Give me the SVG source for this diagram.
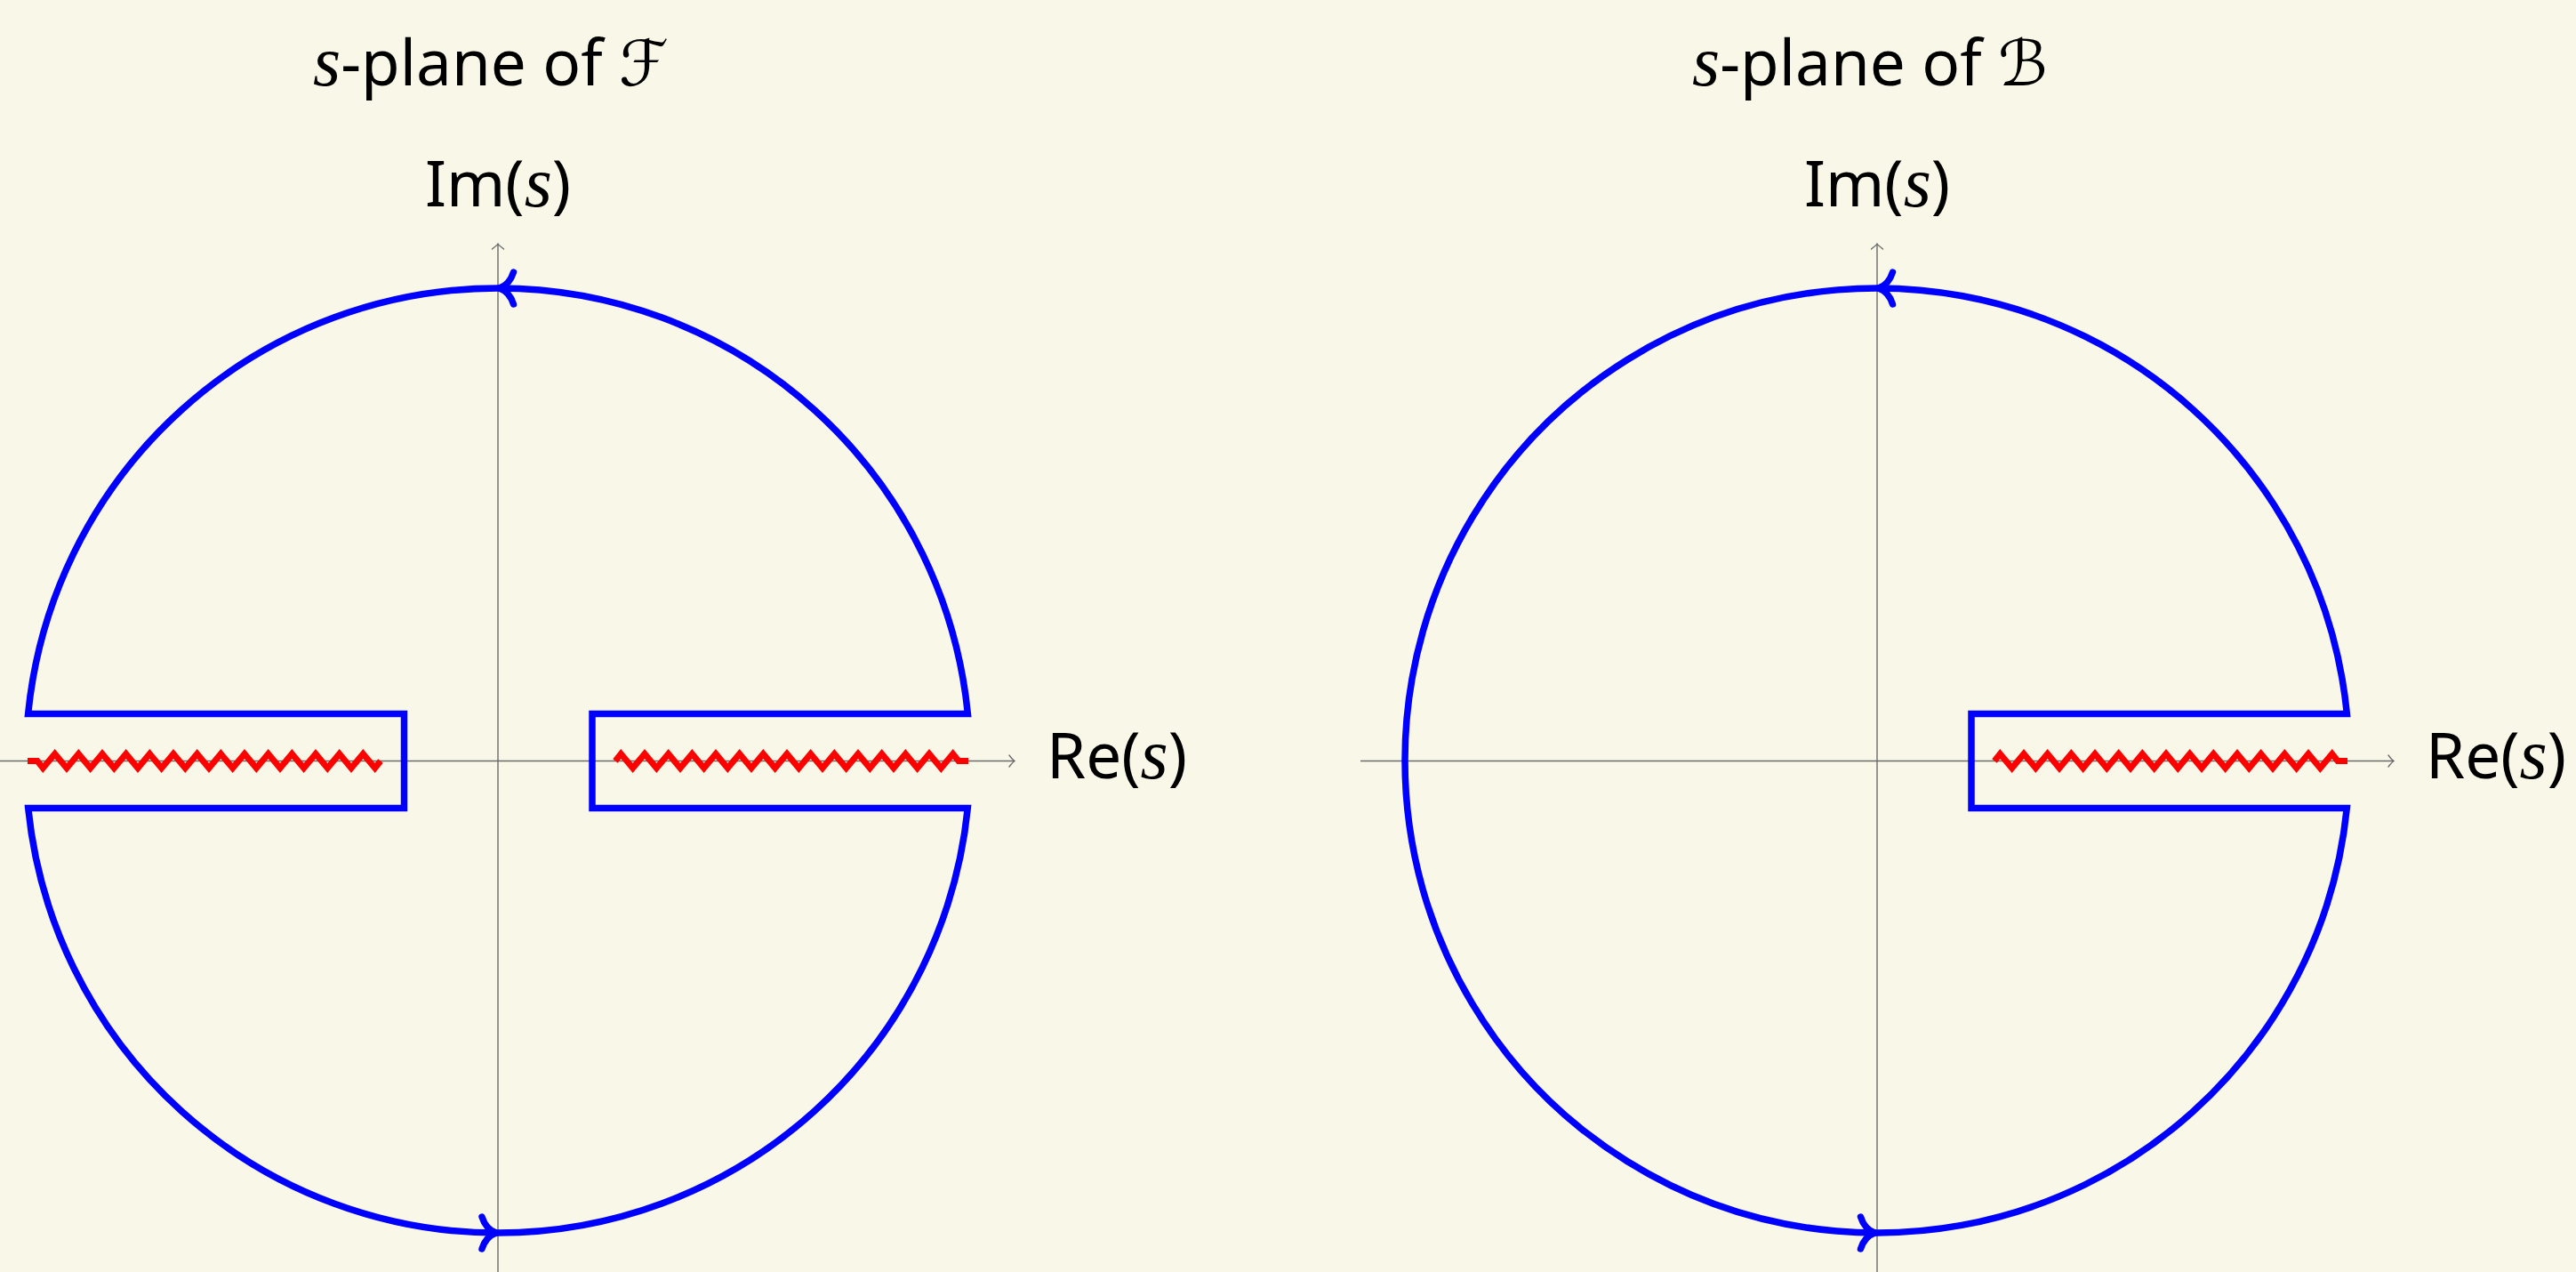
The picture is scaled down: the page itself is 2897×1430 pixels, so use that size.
<svg xmlns="http://www.w3.org/2000/svg" width="2897" height="1430" viewBox="0 0 2897 1430">
<style>
.bg{fill:#F9F8E8}
.axis{fill:none;stroke:#6a6a6a;stroke-width:1.4}
.axhead{fill:none;stroke:#6a6a6a;stroke-width:1.4;stroke-linecap:round}
.contour{fill:none;stroke:#0000FF;stroke-width:7.5;stroke-linejoin:miter}
.chev{fill:none;stroke:#0000FF;stroke-width:7.5;stroke-linecap:round;stroke-linejoin:round}
.cut{fill:none;stroke:#FF0000;stroke-width:7;stroke-linejoin:miter}
.lbl{font-family:"Noto Sans","Open Sans","DejaVu Sans",sans-serif;font-size:71px;fill:#000}
.var{font-family:"Liberation Serif","DejaVu Serif",serif;font-style:italic;font-size:80px}
.scr{font-family:"DejaVu Sans","DejaVu Serif",sans-serif;font-style:italic}
</style>
<defs>
<path id="zz" d="M132,0 L138.33,-8 L151.67,8 L165,-8 L178.33,8 L191.67,-8 L205,8 L218.33,-8 L231.67,8 L245,-8 L258.33,8 L271.67,-8 L285,8 L298.33,-8 L311.67,8 L325,-8 L338.33,8 L351.67,-8 L365,8 L378.33,-8 L391.67,8 L405,-8 L418.33,8 L431.67,-8 L445,8 L458.33,-8 L471.67,8 L485,-8 L498.33,8 L511.67,-8 L518,0 L529,0"/>
<path id="arrLeft" d="M16,-18 C13.5,-10 8.5,-3 0,0 C8.5,3 13.5,10 16,18"/>
<path id="arrRight" d="M-16,-18 C-13.5,-10 -8.5,-3 0,0 C-8.5,3 -13.5,10 -16,18"/>
<path id="axR" d="M-6,-6.5 C-4,-4 -2,-1.2 0,0 C-2,1.2 -4,4 -6,6.5"/>
<path id="axU" d="M-6.5,6 C-4,4 -1.2,2 0,0 C1.2,2 4,4 6.5,6"/>
</defs>
<rect class="bg" x="0" y="0" width="2897" height="1430"/>

<g id="axes">
  <line class="axis" x1="0" y1="855.5" x2="1141" y2="855.5"/>
  <use href="#axR" class="axhead" transform="translate(1141,855.5)"/>
  <line class="axis" x1="560" y1="1430" x2="560" y2="274"/>
  <use href="#axU" class="axhead" transform="translate(560,274)"/>
  <line class="axis" x1="1530" y1="855.5" x2="2692" y2="855.5"/>
  <use href="#axR" class="axhead" transform="translate(2692,855.5)"/>
  <line class="axis" x1="2111" y1="1430" x2="2111" y2="274"/>
  <use href="#axU" class="axhead" transform="translate(2111,274)"/>
</g>

<g id="branch-cuts">
  <use href="#zz" class="cut" transform="translate(560,855.5) rotate(180)"/>
  <use href="#zz" class="cut" transform="translate(560,855.5)"/>
  <use href="#zz" class="cut" transform="translate(2111,855.5)"/>
</g>

<g id="contour-F">
  <path class="contour" d="M1088.4,802.5 A531,531 0 0 0 31.6,802.5 L454.5,802.5 L454.5,908.5 L31.7,908.5 A531,531 0 0 0 1088.3,908.5 L666,908.5 L666,802.5 Z"/>
  <use href="#arrLeft" class="chev" transform="translate(561.5,324)"/>
  <use href="#arrRight" class="chev" transform="translate(558,1386)"/>
</g>

<g id="contour-B">
  <path class="contour" d="M2639.4,802.5 A531,531 0 1 0 2639.3,908.5 L2217,908.5 L2217,802.5 Z"/>
  <use href="#arrLeft" class="chev" transform="translate(2112.5,324)"/>
  <use href="#arrRight" class="chev" transform="translate(2108.5,1386)"/>
</g>

<g id="labels-F">
  <text class="lbl" x="552" y="96" text-anchor="middle"><tspan class="var">s</tspan>-plane of <tspan class="scr">ℱ</tspan></text>
  <text class="lbl" x="560" y="232" text-anchor="middle">Im(<tspan class="var">s</tspan>)</text>
  <text class="lbl" x="1177" y="875">Re(<tspan class="var">s</tspan>)</text>
</g>

<g id="labels-B">
  <text class="lbl" x="2103" y="96" text-anchor="middle"><tspan class="var">s</tspan>-plane of <tspan class="scr">ℬ</tspan></text>
  <text class="lbl" x="2111" y="232" text-anchor="middle">Im(<tspan class="var">s</tspan>)</text>
  <text class="lbl" x="2728" y="875">Re(<tspan class="var">s</tspan>)</text>
</g>
</svg>
